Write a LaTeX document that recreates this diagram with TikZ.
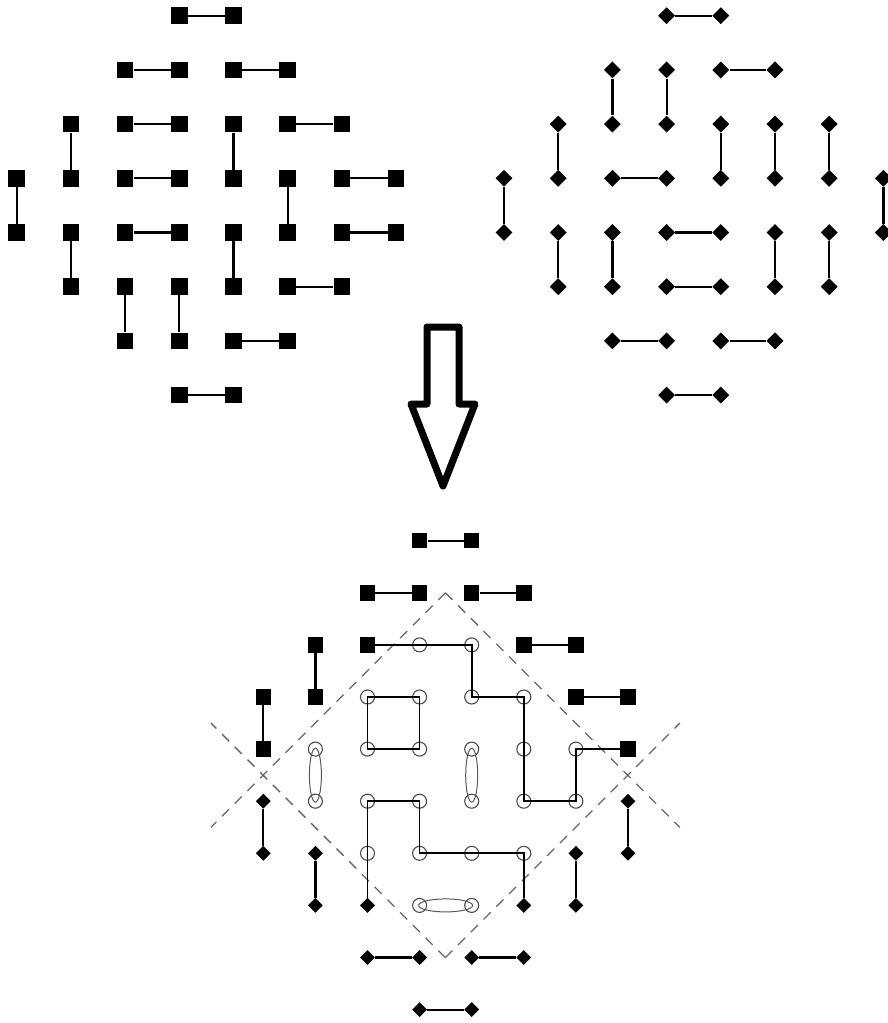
\documentclass[tikz,border=0pt]{standalone}
\usetikzlibrary{shapes.geometric,calc}
\begin{document}
\begin{tikzpicture}[x=1pt,y=-1pt,
 sqL/.style={rectangle,fill=black,inner sep=0pt,minimum size=16.5pt},
 dmR/.style={diamond,fill=black,inner sep=0pt,minimum width=17pt,minimum height=17pt},
 sqB/.style={rectangle,fill=black,inner sep=0pt,minimum size=15.5pt},
 dmB/.style={diamond,fill=black,inner sep=0pt,minimum width=15pt,minimum height=15pt},
 circB/.style={circle,draw=black!70,line width=1.1pt,inner sep=0pt,minimum size=14pt},
 domino/.style={line width=2.2pt,black},
 cyc/.style={line width=1.7pt,black},
 loopst/.style={draw=black!65,line width=1pt},
 guide/.style={draw=black!60,line width=1.3pt,dash pattern=on 10pt off 8pt},
 bigarrow/.style={draw=black,line width=7pt,line join=round}]
\useasboundingbox (0,0) rectangle (888,1023);
\fill[white] (0,0) rectangle (888,1023);

% ---------- top-left and top-right tilings ----------
\foreach \j/\a/\b in {0/3/4,1/2/5,2/1/6,3/0/7,4/0/7,5/1/6,6/2/5,7/3/4}{
  \foreach \i in {\a,...,\b}{
    \node[sqL] (L-\i-\j) at ({16.7+54.2*\i},{15.7+54.2*\j}) {};
    \node[dmR] (R-\i-\j) at ({504+54.2*\i},{15.7+54.2*\j}) {};
  }}

\foreach \p/\q in {3-0/4-0, 2-1/3-1, 4-1/5-1,
  1-2/1-3, 2-2/3-2, 4-2/4-3, 5-2/6-2,
  0-3/0-4, 2-3/3-3, 5-3/5-4, 6-3/7-3,
  1-4/1-5, 2-4/3-4, 4-4/4-5, 6-4/7-4,
  2-5/2-6, 3-5/3-6, 5-5/6-5,
  4-6/5-6, 3-7/4-7}
  \draw[domino] (L-\p) -- (L-\q);

\foreach \p/\q in {3-0/4-0, 2-1/2-2, 3-1/3-2, 4-1/5-1,
  1-2/1-3, 4-2/4-3, 5-2/5-3, 6-2/6-3,
  0-3/0-4, 2-3/3-3, 7-3/7-4,
  1-4/1-5, 2-4/2-5, 3-4/4-4, 5-4/5-5, 6-4/6-5,
  3-5/4-5, 2-6/3-6, 4-6/5-6, 3-7/4-7}
  \draw[domino] (R-\p) -- (R-\q);

% ---------- arrow ----------
\draw[bigarrow] (427,327) -- (459,327) -- (459,404) -- (475,404) -- (443,486)
  -- (411,404) -- (427,404) -- cycle;

% ---------- dashed guide lines ----------
\coordinate (DT) at (445.4,592.8);
\coordinate (DB) at (445.4,957.6);
\coordinate (EUL) at (211,723.1);
\coordinate (ELL) at (211,827.3);
\coordinate (EUR) at (679.8,723.1);
\coordinate (ELR) at (679.8,827.3);
\draw[guide] (DT) -- (ELL);
\draw[guide] (DB) -- (EUL);
\draw[guide] (DT) -- (ELR);
\draw[guide] (DB) -- (EUR);

% ---------- bottom combined picture ----------
\foreach \c/\r in {3/0,4/0,2/1,3/1,4/1,5/1,1/2,2/2,5/2,6/2,0/3,1/3,6/3,7/3,0/4,7/4}
  \node[sqB] (B-\c-\r) at ({263.3+52.1*\c},{540.7+52.1*\r}) {};
\foreach \c/\r in {0/5,7/5,0/6,1/6,6/6,7/6,1/7,2/7,5/7,6/7,2/8,3/8,4/8,5/8,3/9,4/9}
  \node[dmB] (B-\c-\r) at ({263.3+52.1*\c},{540.7+52.1*\r}) {};
\foreach \c/\r in {3/2,4/2,2/3,3/3,4/3,5/3,1/4,2/4,3/4,4/4,5/4,6/4,1/5,2/5,3/5,4/5,5/5,6/5,2/6,3/6,4/6,5/6,3/7,4/7}
  \node[circB] (B-\c-\r) at ({263.3+52.1*\c},{540.7+52.1*\r}) {};

\foreach \p/\q in {3-0/4-0, 2-1/3-1, 4-1/5-1, 1-2/1-3, 5-2/6-2,
  0-3/0-4, 6-3/7-3, 0-5/0-6, 7-5/7-6, 1-6/1-7, 6-6/6-7,
  2-8/3-8, 4-8/5-8, 3-9/4-9}
  \draw[domino] (B-\p) -- (B-\q);

\draw[cyc] (B-2-2) -- (B-3-2.center) -- (B-4-2.center) -- (B-4-3.center)
  -- (B-5-3.center) -- (B-5-4.center) -- (B-5-5.center) -- (B-6-5.center)
  -- (B-6-4.center) -- (B-7-4);
\draw[cyc] (B-2-3.center) -- (B-3-3.center) -- (B-3-4.center) -- (B-2-4.center) -- cycle;
\draw[cyc] (B-2-7) -- (B-2-6.center) -- (B-2-5.center) -- (B-3-5.center)
  -- (B-3-6.center) -- (B-4-6.center) -- (B-5-6.center) -- (B-5-7);

\draw[loopst] ($(B-1-4)!0.5!(B-1-5)$) ellipse [x radius=6pt, y radius=27pt];
\draw[loopst] ($(B-4-4)!0.5!(B-4-5)$) ellipse [x radius=6pt, y radius=27pt];
\draw[loopst] ($(B-3-7)!0.5!(B-4-7)$) ellipse [x radius=27pt, y radius=6.5pt];
\end{tikzpicture}
\end{document}
